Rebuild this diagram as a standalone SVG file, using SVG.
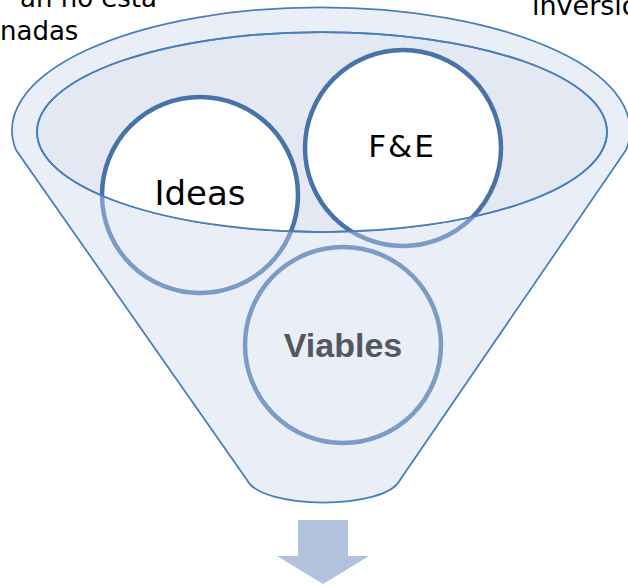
<svg xmlns="http://www.w3.org/2000/svg" width="628" height="585" viewBox="0 0 628 585">
<style>
.lbl{font-family:"DejaVu Sans",sans-serif;fill:#000}
.rim{stroke:#4A7EBB;stroke-width:1.75}
.dark{fill:#fff;stroke:#4872AA;stroke-width:4.5}
.light{fill:none;stroke:#7B9CC7;stroke-width:4.5}
</style>
<defs>
<clipPath id="inClip"><ellipse cx="322" cy="132" rx="285" ry="100"/></clipPath>
<clipPath id="outClip"><path clip-rule="evenodd" d="M0,0H628V585H0Z M37,132 a285,100 0 1,0 570,0 a285,100 0 1,0 -570,0Z"/></clipPath>
</defs>
<rect width="628" height="585" fill="#fff"/>
<text class="lbl" x="157" y="7" font-size="26" text-anchor="end">an no esta</text>
<text class="lbl" x="0" y="40" font-size="26">nadas</text>
<text class="lbl" x="532" y="15" font-size="27">inversión</text>
<g id="funnel">
<path class="rim" fill="#EAEEF7" d="M16,150 A309,123 0 1 1 626,150 L400,480 C385,510 262,510 247,480 Z"/>
<ellipse class="rim" cx="322" cy="132" rx="285" ry="100" fill="#E4E8F2"/>
</g>
<g id="node-ideas">
<circle class="dark" cx="200" cy="195" r="98" clip-path="url(#inClip)"/>
<circle class="light" cx="200" cy="195" r="98" clip-path="url(#outClip)"/>
<text class="lbl" x="200" y="205" font-size="34" text-anchor="middle">Ideas</text>
</g>
<g id="node-fe">
<circle class="dark" cx="403" cy="148" r="98" clip-path="url(#inClip)"/>
<circle class="light" cx="403" cy="148" r="98" clip-path="url(#outClip)"/>
<text class="lbl" x="402" y="157" font-size="31" letter-spacing="2" text-anchor="middle">F&amp;E</text>
</g>
<g id="node-viables">
<circle class="light" cx="343" cy="345" r="98"/>
<text x="343" y="357" font-family="'Liberation Sans',Arial,sans-serif" font-weight="bold" font-size="34" fill="#53575F" text-anchor="middle">Viables</text>
</g>
<g id="connectors">
<ellipse class="rim" cx="322" cy="132" rx="285" ry="100" fill="none"/>
<path d="M298,520H348V556H369L323,584L277,556H298Z" fill="#B0C2DE"/>
</g>
</svg>
